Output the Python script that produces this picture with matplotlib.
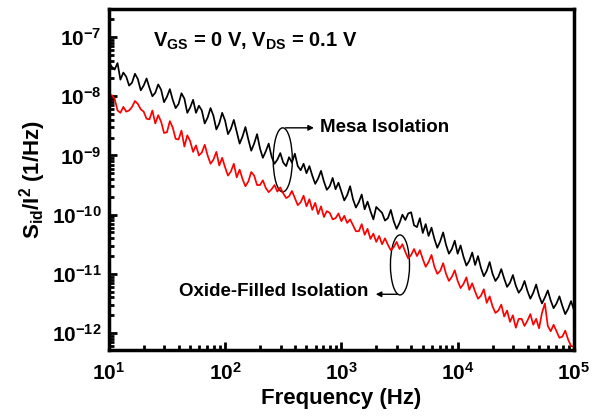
"""Low-frequency noise spectra: mesa vs oxide-filled isolation."""

import matplotlib
matplotlib.use("Agg")
import matplotlib.pyplot as plt
import matplotlib.ticker as mticker
import numpy as np
from matplotlib.patches import Ellipse

plt.rcParams.update({
    "font.family": ["Liberation Sans", "DejaVu Sans"],
    "font.weight": "bold",
    "mathtext.fontset": "custom",
    "mathtext.rm": "Liberation Sans:bold",
    "mathtext.it": "Liberation Sans:bold",
    "mathtext.bf": "Liberation Sans:bold",
    "mathtext.default": "rm",
})

# frequency grid: 40 points per decade, 10 Hz .. 100 kHz
MANTISSA = [1.000, 1.059, 1.122, 1.189, 1.259, 1.334, 1.413, 1.496, 1.585, 1.679,
            1.778, 1.884, 1.995, 2.113, 2.239, 2.371, 2.512, 2.661, 2.818, 2.985,
            3.162, 3.350, 3.548, 3.758, 3.981, 4.217, 4.467, 4.732, 5.012, 5.309,
            5.623, 5.957, 6.310, 6.683, 7.079, 7.499, 7.943, 8.414, 8.913, 9.441]
DECADES = [1e1, 1e2, 1e3, 1e4]
freq = [m * d for d in DECADES for m in MANTISSA] + [1e5]

# log10 of S_id/I^2
mesa_exp = [
    -7.42, -7.50, -7.55, -7.44, -7.72, -7.60, -7.67, -7.82, -7.77, -7.62,
    -7.71, -7.90, -7.82, -7.70, -7.86, -8.00, -7.94, -7.80, -7.89, -8.10,
    -8.01, -7.88, -8.06, -8.20, -8.13, -7.95, -8.04, -8.28, -8.19, -8.06,
    -8.28, -8.16, -8.24, -8.46, -8.36, -8.20, -8.33, -8.56, -8.46, -8.28,
    -8.41, -8.64, -8.55, -8.40, -8.60, -8.80, -8.68, -8.52, -8.73, -8.92,
    -8.80, -8.64, -8.88, -9.04, -8.93, -8.80, -9.02, -9.14, -9.07, -8.96,
    -9.12, -9.18, -9.03, -9.12, -8.97, -9.18, -9.25, -9.14, -9.30, -9.18,
    -9.34, -9.48, -9.39, -9.26, -9.44, -9.58, -9.52, -9.38, -9.57, -9.46,
    -9.61, -9.76, -9.67, -9.52, -9.74, -9.88, -9.79, -9.66, -9.91, -9.78,
    -9.94, -10.08, -9.87, -9.92, -9.97, -10.10, -10.06, -9.92, -10.11, -10.24,
    -10.14, -10.00, -10.09, -9.98, -9.96, -10.18, -10.21, -10.06, -10.31, -10.16,
    -10.36, -10.22, -10.41, -10.56, -10.45, -10.30, -10.51, -10.66, -10.58, -10.44,
    -10.66, -10.52, -10.71, -10.86, -10.78, -10.64, -10.85, -10.70, -10.90, -11.04,
    -10.95, -10.80, -11.00, -11.12, -11.05, -10.92, -11.08, -11.22, -11.15, -11.02,
    -11.20, -11.32, -11.25, -11.12, -11.29, -11.42, -11.32, -11.18, -11.37, -11.50,
    -11.40, -11.28, -11.45, -11.58, -11.50, -11.38, -11.54, -11.68, -11.59, -11.46,
    -11.61,
]

oxide_exp = [
    -8.01, -7.98, -8.04, -8.24, -8.28, -8.18, -8.26, -8.24, -8.18, -8.08,
    -8.13, -8.22, -8.26, -8.38, -8.39, -8.24, -8.46, -8.32, -8.43, -8.62,
    -8.61, -8.42, -8.53, -8.72, -8.73, -8.58, -8.85, -8.66, -8.76, -8.94,
    -8.83, -9.00, -8.95, -8.82, -9.00, -9.14, -9.07, -8.94, -9.17, -9.04,
    -9.20, -9.34, -9.27, -9.14, -9.37, -9.24, -9.40, -9.52, -9.44, -9.28,
    -9.34, -9.50, -9.50, -9.42, -9.55, -9.62, -9.57, -9.50, -9.61, -9.54,
    -9.64, -9.72, -9.69, -9.60, -9.72, -9.84, -9.79, -9.68, -9.86, -9.74,
    -9.92, -9.80, -9.99, -9.86, -10.04, -9.94, -9.97, -10.08, -10.06, -9.98,
    -10.11, -10.02, -10.14, -10.08, -10.18, -10.28, -10.28, -10.16, -10.34, -10.24,
    -10.41, -10.32, -10.46, -10.36, -10.50, -10.40, -10.51, -10.60, -10.55, -10.46,
    -10.58, -10.50, -10.63, -10.74, -10.68, -10.58, -10.70, -10.60, -10.75, -10.88,
    -10.80, -10.68, -10.88, -11.00, -10.95, -10.82, -11.00, -11.12, -11.05, -10.94,
    -11.12, -11.24, -11.17, -11.06, -11.27, -11.16, -11.30, -11.42, -11.37, -11.26,
    -11.49, -11.38, -11.55, -11.66, -11.62, -11.52, -11.72, -11.62, -11.81, -11.70,
    -11.91, -11.76, -11.76, -11.88, -11.79, -11.68, -11.86, -11.76, -11.92, -11.66,
    -11.50, -11.88, -11.97, -11.86, -11.97, -12.08, -12.06, -11.96, -12.11, -12.22,
    -12.23,
]

mesa = 10.0 ** np.array(mesa_exp)
oxide = 10.0 ** np.array(oxide_exp)

fig = plt.figure(figsize=(6.01, 4.19), dpi=100)
ax = fig.add_axes([0.181, 0.165, 0.774, 0.814])

ax.plot(freq, mesa, color="black", linewidth=1.25)
ax.plot(freq, oxide, color="#FF0000", linewidth=1.25)

ax.set_xscale("log")
ax.set_yscale("log")
ax.set_xlim(10, 1e5)
ax.set_ylim(5.2e-13, 3.0e-7)
ax.xaxis.set_minor_formatter(mticker.NullFormatter())
ax.yaxis.set_minor_formatter(mticker.NullFormatter())

for side in ax.spines.values():
    side.set_linewidth(2.5)
ax.tick_params(which="both", direction="in", top=False, right=False, width=2)
ax.tick_params(which="major", length=6, labelsize=15)
ax.tick_params(axis="x", which="major", pad=9)
ax.tick_params(axis="y", which="major", pad=5)
ax.tick_params(which="minor", length=3.5)

ax.set_xlabel("Frequency (Hz)", fontsize=16, fontweight="bold", labelpad=3)
ax.set_ylabel(r"S$_{id}$/I$^2$ (1/Hz)", fontsize=16, fontweight="bold", labelpad=3)

ax.text(0.095, 0.905, r"V$_{GS}$ = 0 V, V$_{DS}$ = 0.1 V", transform=ax.transAxes,
        fontsize=14.5, fontweight="bold", va="center", ha="left")

# mesa annotation
ax.add_patch(Ellipse((0.374, 0.557), 0.041, 0.188, transform=ax.transAxes,
                     fill=False, edgecolor="black", linewidth=1.0))
ax.annotate("", xy=(0.447, 0.651), xytext=(0.374, 0.651), xycoords="axes fraction",
            arrowprops=dict(arrowstyle="-|>", color="black", lw=1.0, mutation_scale=8))
ax.text(0.455, 0.651, "Mesa Isolation", transform=ax.transAxes,
        fontsize=13.5, fontweight="bold", va="center", ha="left")

# oxide-filled annotation
ax.add_patch(Ellipse((0.626, 0.249), 0.041, 0.176, transform=ax.transAxes,
                     fill=False, edgecolor="black", linewidth=1.0))
ax.annotate("", xy=(0.568, 0.163), xytext=(0.626, 0.163), xycoords="axes fraction",
            arrowprops=dict(arrowstyle="-|>", color="black", lw=1.0, mutation_scale=8))
ax.text(0.558, 0.172, "Oxide-Filled Isolation", transform=ax.transAxes,
        fontsize=13.5, fontweight="bold", va="center", ha="right")

fig.savefig("out.png", dpi=100, facecolor="white")
